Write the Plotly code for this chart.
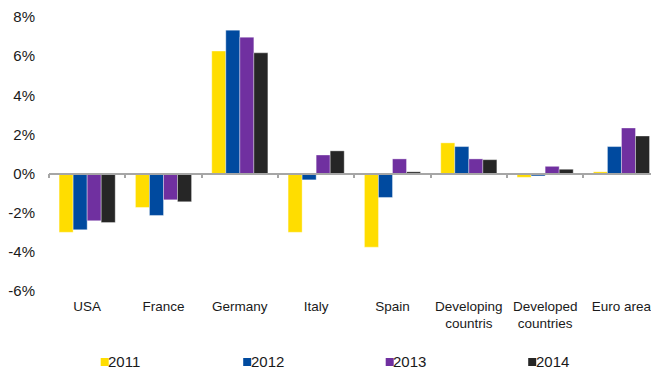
import plotly.graph_objects as go

# Annual change by economy, 2011-2014 (percent)
categories = ["USA", "France", "Germany", "Italy", "Spain",
              "Developing<br>countris", "Developed<br>countries", "Euro area"]
years = ["2011", "2012", "2013", "2014"]
values_2011 = [-3.0, -1.73, 6.26, -3.0, -3.76, 1.57, -0.19, 0.09]
values_2012 = [-2.87, -2.14, 7.33, -0.32, -1.22, 1.38, -0.12, 1.38]
values_2013 = [-2.41, -1.34, 6.97, 0.95, 0.75, 0.75, 0.37, 2.33]
values_2014 = [-2.5, -1.44, 6.17, 1.16, 0.09, 0.71, 0.22, 1.92]
series = [values_2011, values_2012, values_2013, values_2014]
colors = ["#FFDD00", "#004A9F", "#7030A0", "#262626"]
y_ticks = [-6, -4, -2, 0, 2, 4, 6, 8]
y_tick_labels = [f"{v}%" for v in y_ticks]   # plain hyphen for negatives

W, H = 651, 369
ML, MR, MT, MB = 49, 0, 0, 78
plot_w = W - ML - MR
plot_h = H - MT - MB

cat_px = 76.33                      # width of one category slot
x_range = [-0.5, -0.5 + plot_w / cat_px]
px_per_pct = 19.57
y_range = [-6.0, -6.0 + plot_h / px_per_pct]

FONT = "Liberation Sans, Arial, sans-serif"
TEXT = "#1a1a1a"

fig = go.Figure()
for name, vals, col in zip(years, series, colors):
    fig.add_trace(go.Bar(
        x=categories, y=vals, name=name,
        marker=dict(color=col, line=dict(color="rgba(255,255,255,0.6)", width=0.6)),
        showlegend=False,
    ))

# helper trace so the zero-line axis is drawn
fig.add_trace(go.Scatter(x=[], y=[], xaxis="x2", yaxis="y", showlegend=False,
                         hoverinfo="skip"))

zero_pos = (0 - y_range[0]) / (y_range[1] - y_range[0])
boundaries = [i - 0.5 for i in range(len(categories) + 1)]

fig.update_layout(
    width=W, height=H,
    margin=dict(l=ML, r=MR, t=MT, b=MB, pad=0),
    paper_bgcolor="white", plot_bgcolor="white",
    barmode="group", bargap=0.265, bargroupgap=0,
    font=dict(family=FONT, color=TEXT),
    xaxis=dict(
        type="category", range=x_range, showgrid=False, zeroline=False,
        showline=False, ticks="", tickfont=dict(size=13.5, color=TEXT),
        ticklabelstandoff=5, fixedrange=True,
    ),
    xaxis2=dict(
        overlaying="x", anchor="free", position=zero_pos, side="bottom",
        range=x_range, showgrid=False, zeroline=False,
        showline=True, linecolor="#a6a6a6", linewidth=1.5,
        ticks="outside", ticklen=4, tickwidth=1.5, tickcolor="#a6a6a6",
        tickvals=boundaries, showticklabels=False,
    ),
    yaxis=dict(
        range=y_range, tickvals=y_ticks, ticktext=y_tick_labels,
        showgrid=False, zeroline=False, showline=False, ticks="",
        tickfont=dict(size=15, color=TEXT), ticklabelstandoff=13,
    ),
)

# Legend: small colour squares followed by the year, laid out in a row
def px_x(px):
    return (px - ML) / plot_w

def px_y(py):
    return (MT + plot_h - py) / plot_h

legend_x0 = 100.7
legend_step = 142.5
sq = 8
sq_top = 358
for i, (name, col) in enumerate(zip(years, colors)):
    x0 = legend_x0 + i * legend_step
    fig.add_shape(type="rect", xref="paper", yref="paper",
                  x0=px_x(x0), x1=px_x(x0 + sq),
                  y0=px_y(sq_top + sq), y1=px_y(sq_top),
                  fillcolor=col, line=dict(width=0))
    fig.add_annotation(xref="paper", yref="paper",
                       x=px_x(x0 + sq - 0.5), y=px_y(sq_top + sq / 2 - 0.5),
                       xanchor="left", yanchor="middle", showarrow=False,
                       borderpad=0, borderwidth=0,
                       text=name, font=dict(size=15, color=TEXT, family=FONT))

fig.write_html("out.html")
